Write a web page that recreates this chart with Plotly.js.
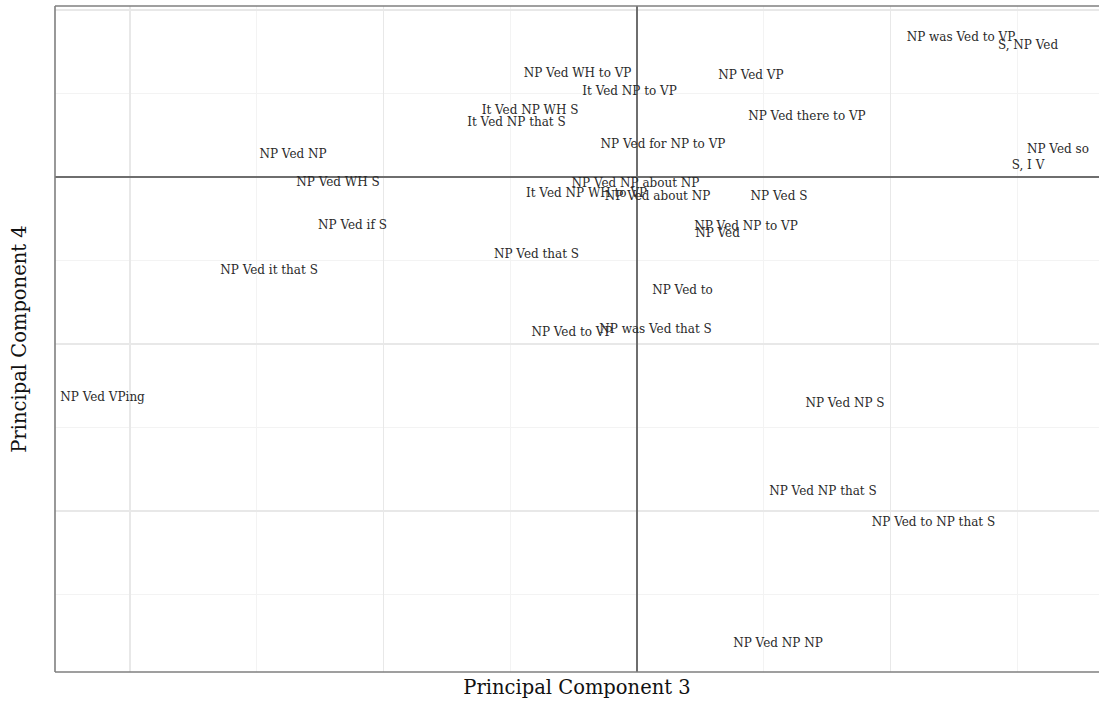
<!DOCTYPE html>
<html>
<head>
<meta charset="utf-8">
<script src="https://cdn.plot.ly/plotly-3.0.1.min.js"></script>
<style>html,body{margin:0;padding:0;background:#fff;}#chart{width:1099px;height:726px;}</style>
</head>
<body>
<div id="chart"></div>
<script>
const labels = [
  "NP was Ved to VP", "S, NP Ved", "NP Ved WH to VP", "NP Ved VP", "It Ved NP to VP",
  "It Ved NP WH S", "It Ved NP that S", "NP Ved there to VP", "NP Ved for NP to VP", "NP Ved so",
  "S, I V", "NP Ved NP", "NP Ved WH S", "NP Ved NP about NP", "It Ved NP WH to VP",
  "NP Ved about NP", "NP Ved S", "NP Ved if S", "NP Ved NP to VP", "NP Ved",
  "NP Ved that S", "NP Ved it that S", "NP Ved to", "NP Ved to VP", "NP was Ved that S",
  "NP Ved VPing", "NP Ved NP S", "NP Ved NP that S", "NP Ved to NP that S", "NP Ved NP NP"
];
const pc3 = [
  0.2556, 0.3085, -0.0469, 0.0899, -0.0059,
  -0.0844, -0.0951, 0.1341, 0.0205, 0.3321,
  0.3085, -0.2714, -0.2359, -0.0012, -0.0398,
  0.0162, 0.1120, -0.2245, 0.0860, 0.0635,
  -0.0793, -0.2903, 0.0359, -0.0513, 0.0146,
  -0.4217, 0.1641, 0.1467, 0.2339, 0.1112
];
const pc4 = [
  0.1665, 0.1569, 0.1234, 0.1210, 0.1018,
  0.0790, 0.0647, 0.0719, 0.0383, 0.0323,
  0.0132, 0.0263, -0.0072, -0.0084, -0.0204,
  -0.0240, -0.0240, -0.0587, -0.0599, -0.0683,
  -0.0934, -0.1126, -0.1365, -0.1868, -0.1832,
  -0.2647, -0.2719, -0.3772, -0.4144, -0.5593
];
const xTitle = "Principal Component 3";
const yTitle = "Principal Component 4";

const serif = "'DejaVu Serif', 'Liberation Serif', serif";

const trace = {
  type: "scatter",
  mode: "text",
  x: pc3,
  y: pc4,
  text: labels,
  textposition: "middle center",
  textfont: {family: serif, size: 12, color: "#2a2a2a"},
  hoverinfo: "text",
  cliponaxis: false
};

const layout = {
  width: 1099,
  height: 726,
  margin: {l: 55, r: 0, t: 6, b: 54},
  paper_bgcolor: "#fff",
  plot_bgcolor: "#fff",
  showlegend: false,
  xaxis: {
    range: [-0.4592, 0.3645],
    showticklabels: false,
    ticks: "",
    dtick: 0.2,
    tick0: 0,
    showgrid: true,
    gridcolor: "#e8e8e8",
    gridwidth: 1.1,
    minor: {dtick: 0.1, tick0: 0, showgrid: true, gridcolor: "#f3f3f3", gridwidth: 1},
    zeroline: true,
    zerolinecolor: "#6e6e6e",
    zerolinewidth: 1.3,
    showline: false,
    title: {text: xTitle, font: {family: serif, size: 19.5, color: "#111"}, standoff: 8}
  },
  yaxis: {
    range: [-0.5928, 0.2048],
    showticklabels: false,
    ticks: "",
    dtick: 0.2,
    tick0: 0,
    showgrid: true,
    gridcolor: "#e8e8e8",
    gridwidth: 1.1,
    minor: {dtick: 0.1, tick0: 0, showgrid: true, gridcolor: "#f3f3f3", gridwidth: 1},
    zeroline: true,
    zerolinecolor: "#6e6e6e",
    zerolinewidth: 1.3,
    showline: false,
    title: {text: yTitle, font: {family: serif, size: 19.5, color: "#111"}, standoff: 22}
  },
  shapes: [
    {type: "line", xref: "paper", yref: "paper", x0: 0, x1: 0, y0: 0, y1: 1, line: {color: "#7f7f7f", width: 1.6}},
    {type: "line", xref: "paper", yref: "paper", x0: 0, x1: 1, y0: 1, y1: 1, line: {color: "#7f7f7f", width: 1.4}},
    {type: "line", xref: "paper", yref: "paper", x0: 0, x1: 1, y0: 0, y1: 0, line: {color: "#7f7f7f", width: 1.4}}
  ]
};

Plotly.newPlot("chart", [trace], layout, {staticPlot: true, displayModeBar: false});
</script>
</body>
</html>
